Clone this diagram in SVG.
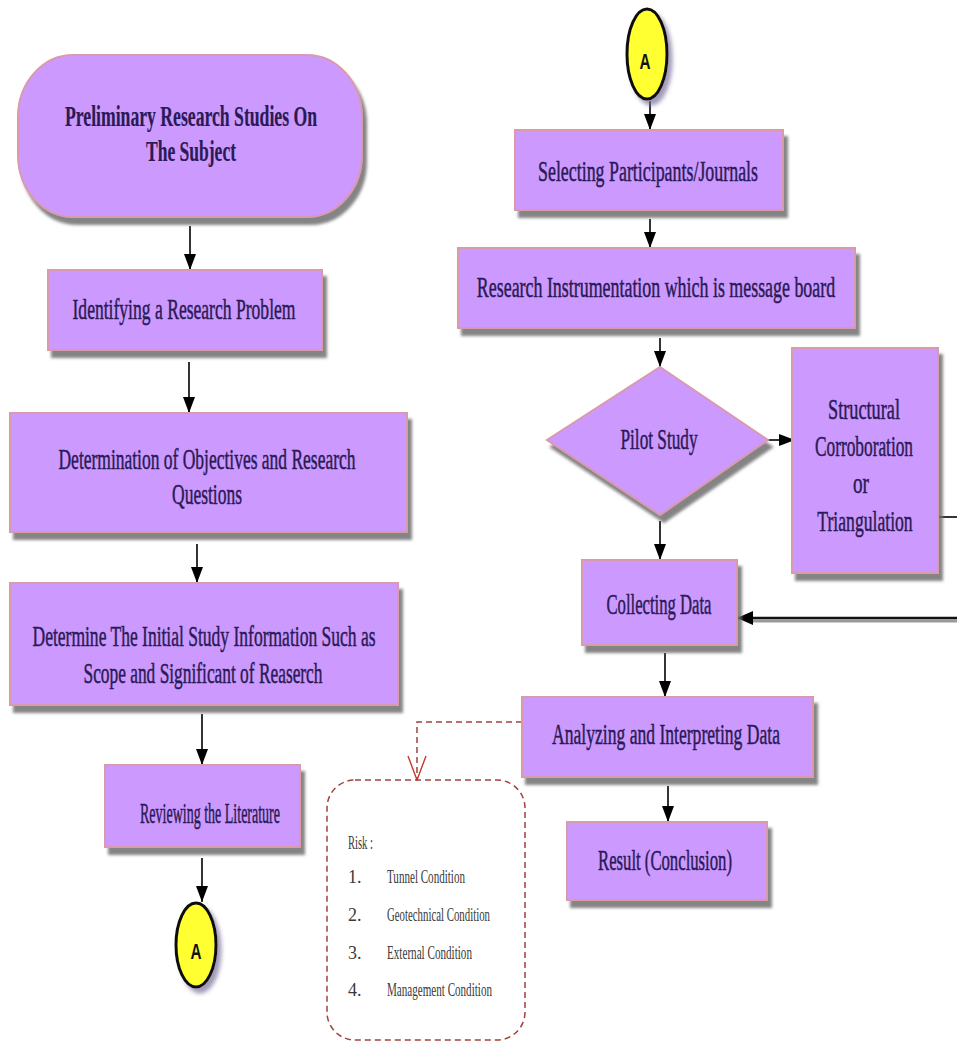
<svg xmlns="http://www.w3.org/2000/svg" width="957" height="1050" viewBox="0 0 957 1050">
  <defs>
    <filter id="sh" x="-10%" y="-10%" width="130%" height="140%">
      <feDropShadow dx="4" dy="7" stdDeviation="1.5" flood-color="#6e6e6e" flood-opacity="0.85"/>
    </filter>
    <filter id="shc" x="-30%" y="-20%" width="170%" height="150%">
      <feDropShadow dx="4" dy="5" stdDeviation="2" flood-color="#7a6f9a" flood-opacity="0.7"/>
    </filter>
    <marker id="ah" viewBox="0 0 16 12" refX="16" refY="6" markerWidth="16" markerHeight="12" markerUnits="userSpaceOnUse" orient="auto">
      <path d="M0,0 L16,6 L0,12 z" fill="#000"/>
    </marker>
    <marker id="ahb" viewBox="0 0 16 14" refX="16" refY="7" markerWidth="16" markerHeight="14" markerUnits="userSpaceOnUse" orient="auto">
      <path d="M0,0 L16,7 L0,14 z" fill="#000"/>
    </marker>
    <marker id="av" viewBox="0 0 26 20" refX="25" refY="10" markerWidth="26" markerHeight="20" markerUnits="userSpaceOnUse" orient="auto">
      <path d="M1,1 L25,10 L1,19" fill="none" stroke="#c0392b" stroke-width="1.4"/>
    </marker>
  </defs>
  <style>
    .box { fill: #cc99ff; stroke: #d99aae; stroke-width: 2; filter: url(#sh); }
    .t { font-family: "Liberation Serif", "DejaVu Serif", serif; font-size: 30px; fill: #2a1a55; stroke: #2a1a55; stroke-width: 0.5; text-anchor: middle; }
    .tb { font-weight: bold; stroke-width: 0.2; }
    .conn { stroke: #000; stroke-width: 1.6; fill: none; }
    .circ { fill: #ffff33; stroke: #111; stroke-width: 3; filter: url(#shc); }
    .ct { font-family: "Liberation Sans Narrow", "Liberation Sans", "DejaVu Sans", sans-serif; font-weight: bold; font-size: 22px; fill: #111; text-anchor: middle; }
    .risk { font-family: "Liberation Serif", "DejaVu Serif", serif; font-size: 18px; fill: #3a3a3a; }
    .dash { stroke: #a0413a; stroke-width: 1.5; stroke-dasharray: 6 4; fill: none; }
  </style>
  <rect width="957" height="1050" fill="#ffffff"/>

  <g id="connectors">
    <line class="conn" x1="190" y1="226" x2="190" y2="270" marker-end="url(#ah)"/>
    <line class="conn" x1="189" y1="362" x2="189" y2="413" marker-end="url(#ah)"/>
    <line class="conn" x1="197" y1="544" x2="197" y2="583" marker-end="url(#ah)"/>
    <line class="conn" x1="202" y1="714" x2="202" y2="765" marker-end="url(#ah)"/>
    <line class="conn" x1="202" y1="858" x2="202" y2="902" marker-end="url(#ah)"/>
    <line class="conn" x1="650" y1="101" x2="650" y2="130" marker-end="url(#ah)"/>
    <line class="conn" x1="650" y1="219" x2="650" y2="248" marker-end="url(#ah)"/>
    <line class="conn" x1="660" y1="338" x2="660" y2="367" marker-end="url(#ah)"/>
    <line class="conn" x1="768" y1="440" x2="795" y2="440" marker-end="url(#ah)"/>
    <line class="conn" x1="660" y1="521" x2="660" y2="560" marker-end="url(#ah)"/>
    <line class="conn" x1="938" y1="517" x2="957" y2="517"/>
    <line x1="957" y1="621" x2="750" y2="621" stroke="#9a9a9a" stroke-width="3"/>
    <line x1="957" y1="618" x2="737" y2="618" stroke="#111" stroke-width="2.6" marker-end="url(#ahb)"/>
    <line class="conn" x1="665" y1="653" x2="665" y2="697" marker-end="url(#ah)"/>
    <line class="conn" x1="668" y1="786" x2="668" y2="822" marker-end="url(#ah)"/>
    <path class="dash" d="M522,722 L417,722 L417,780" marker-end="url(#av)"/>
  </g>

  <g id="n-preliminary">
    <rect class="box" x="18" y="55" width="344" height="162" rx="55" ry="62"/>
    <text class="t tb" x="191" y="126" textLength="252" lengthAdjust="spacingAndGlyphs">Preliminary Research Studies On</text>
    <text class="t tb" x="191" y="161" textLength="90" lengthAdjust="spacingAndGlyphs">The Subject</text>
  </g>
  <g id="n-identifying">
    <rect class="box" x="48" y="270" width="274" height="80"/>
    <text class="t" x="184" y="319" textLength="223" lengthAdjust="spacingAndGlyphs">Identifying a Research Problem</text>
  </g>
  <g id="n-objectives">
    <rect class="box" x="10" y="413" width="397" height="119"/>
    <text class="t" x="207" y="469" textLength="297" lengthAdjust="spacingAndGlyphs">Determination of Objectives and Research</text>
    <text class="t" x="207" y="504" textLength="70" lengthAdjust="spacingAndGlyphs">Questions</text>
  </g>
  <g id="n-initial">
    <rect class="box" x="10" y="583" width="388" height="122"/>
    <text class="t" x="204" y="646" textLength="343" lengthAdjust="spacingAndGlyphs">Determine The Initial Study Information Such as</text>
    <text class="t" x="203" y="683" textLength="239" lengthAdjust="spacingAndGlyphs">Scope and Significant of Reaserch</text>
  </g>
  <g id="n-literature">
    <rect class="box" x="105" y="765" width="195" height="82"/>
    <text class="t" x="210" y="823" textLength="140" lengthAdjust="spacingAndGlyphs">Reviewing the Literature</text>
  </g>
  <g id="n-a-bottom">
    <ellipse class="circ" cx="196" cy="945" rx="20" ry="42"/>
    <text class="ct" x="196" y="959" textLength="11" lengthAdjust="spacingAndGlyphs">A</text>
  </g>

  <g id="n-a-top">
    <ellipse class="circ" cx="647" cy="54" rx="20" ry="45"/>
    <text class="ct" x="645" y="69" textLength="11" lengthAdjust="spacingAndGlyphs">A</text>
  </g>
  <g id="n-selecting">
    <rect class="box" x="515" y="130" width="268" height="80"/>
    <text class="t" x="648" y="181" textLength="220" lengthAdjust="spacingAndGlyphs">Selecting Participants/Journals</text>
  </g>
  <g id="n-instrumentation">
    <rect class="box" x="458" y="248" width="397" height="80"/>
    <text class="t" transform="translate(656 297) scale(0.597 1)" x="0" y="0">Research Instrumentation which is message board</text>
  </g>
  <g id="n-pilot">
    <polygon class="box" points="660,367 768,440 660,515 547,440"/>
    <text class="t" x="659" y="449" textLength="77" lengthAdjust="spacingAndGlyphs">Pilot Study</text>
  </g>
  <g id="n-structural">
    <rect class="box" x="792" y="348" width="146" height="225"/>
    <text class="t" x="864" y="419" textLength="72" lengthAdjust="spacingAndGlyphs">Structural</text>
    <text class="t" transform="translate(864 456) scale(0.577 1)" x="0" y="0">Corroboration</text>
    <text class="t" x="861" y="493" textLength="16" lengthAdjust="spacingAndGlyphs">or</text>
    <text class="t" transform="translate(865 531) scale(0.588 1)" x="0" y="0">Triangulation</text>
  </g>
  <g id="n-collecting">
    <rect class="box" x="582" y="560" width="155" height="85"/>
    <text class="t" x="659" y="614" textLength="105" lengthAdjust="spacingAndGlyphs">Collecting Data</text>
  </g>
  <g id="n-analyzing">
    <rect class="box" x="522" y="697" width="291" height="80"/>
    <text class="t" x="666" y="744" textLength="228" lengthAdjust="spacingAndGlyphs">Analyzing and Interpreting Data</text>
  </g>
  <g id="n-result">
    <rect class="box" x="567" y="822" width="200" height="78"/>
    <text class="t" x="665" y="870" textLength="134" lengthAdjust="spacingAndGlyphs">Result (Conclusion)</text>
  </g>

  <g id="n-risk">
    <rect class="dash" x="327" y="780" width="198" height="260" rx="28" ry="28"/>
    <text class="risk" x="348" y="849" textLength="25" lengthAdjust="spacingAndGlyphs">Risk :</text>
    <text class="risk" x="348" y="883">1.</text>
    <text class="risk" x="387" y="883" textLength="78" lengthAdjust="spacingAndGlyphs">Tunnel Condition</text>
    <text class="risk" x="348" y="921">2.</text>
    <text class="risk" x="387" y="921" textLength="103" lengthAdjust="spacingAndGlyphs">Geotechnical Condition</text>
    <text class="risk" x="348" y="959">3.</text>
    <text class="risk" x="387" y="959" textLength="85" lengthAdjust="spacingAndGlyphs">External Condition</text>
    <text class="risk" x="348" y="996">4.</text>
    <text class="risk" x="387" y="996" textLength="105" lengthAdjust="spacingAndGlyphs">Management Condition</text>
  </g>
</svg>
